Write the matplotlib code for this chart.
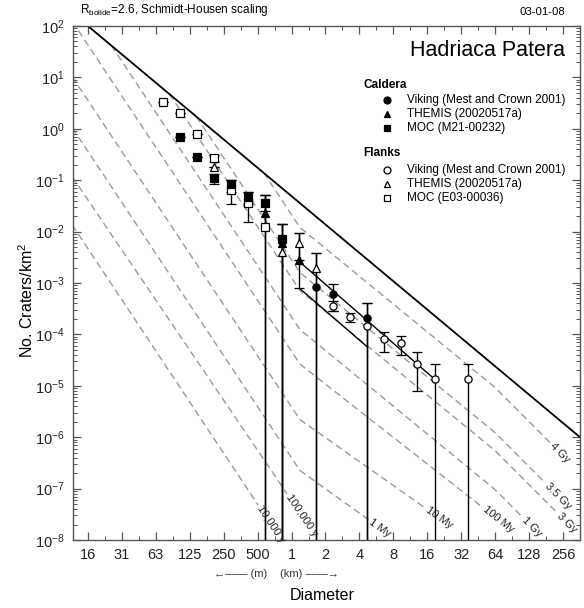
import numpy as np
import matplotlib
matplotlib.use("Agg")
import matplotlib.pyplot as plt
from matplotlib.ticker import FixedLocator, FixedFormatter, LogLocator, NullFormatter

plt.rcParams['font.family'] = ['Liberation Sans', 'DejaVu Sans']
plt.rcParams['mathtext.fontset'] = 'custom'
plt.rcParams['mathtext.rm'] = 'Liberation Sans'
plt.rcParams['mathtext.it'] = 'Liberation Sans:italic'
plt.rcParams['mathtext.bf'] = 'Liberation Sans:bold'
plt.rcParams['axes.unicode_minus'] = False

# --- crater counts (diameter in km, density per km^2) ---
BOTTOM = 1e-9  # error bar running off the bottom of the plot

moc_cal_D = [0.1024, 0.1448, 0.2048, 0.2896, 0.41, 0.58, 0.82]
moc_cal_N = [0.684, 0.279, 0.109, 0.0843, 0.0478, 0.0365, 0.0071]
moc_cal_hi = [0.684, 0.279, 0.135, 0.101, 0.0597, 0.0515, 0.0141]
moc_cal_lo = [0.684, 0.279, 0.085, 0.06, 0.035, 0.025, BOTTOM]

themis_cal_D = [0.58, 0.82, 1.16]
themis_cal_N = [0.0227, 0.0059, 0.0028]
themis_cal_hi = [0.0515, 0.0141, 0.00927]
themis_cal_lo = [BOTTOM, BOTTOM, 0.00079]

viking_cal_D = [1.64, 2.32, 4.64]
viking_cal_N = [8.2e-4, 6.1e-4, 2.06e-4]
viking_cal_hi = [0.00389, 9.6e-4, 4.0e-4]
viking_cal_lo = [BOTTOM, 2.85e-4, BOTTOM]

moc_fl_D = [0.0724, 0.1024, 0.1448, 0.2048, 0.2896, 0.41, 0.58]
moc_fl_N = [3.3, 2.03, 0.79, 0.27, 0.065, 0.036, 0.0124]
moc_fl_hi = [3.3, 2.03, 0.79, 0.31, 0.101, 0.0597, 0.0515]
moc_fl_lo = [3.3, 2.03, 0.79, 0.23, 0.0344, 0.0156, BOTTOM]

themis_fl_D = [0.2048, 0.82, 1.16, 1.64]
themis_fl_N = [0.178, 0.00406, 0.0059, 0.00193]
themis_fl_hi = [0.178, 0.0141, 0.00927, 0.00389]
themis_fl_lo = [0.178, BOTTOM, 0.0028, BOTTOM]

viking_fl_D = [2.32, 3.28, 4.64, 6.56, 9.28, 13.1, 18.6, 37.1]
viking_fl_N = [3.57e-4, 2.2e-4, 1.46e-4, 8.0e-5, 6.7e-5, 2.65e-5, 1.34e-5, 1.34e-5]
viking_fl_hi = [4.5e-4, 2.6e-4, 4.0e-4, 1.13e-4, 9.4e-5, 4.6e-5, 2.65e-5, 2.65e-5]
viking_fl_lo = [2.85e-4, 1.77e-4, BOTTOM, 4.6e-5, 4.0e-5, 8.0e-6, BOTTOM, BOTTOM]

# fitted age lines through the data
fit_hi_D = [1.175, 18.2]
fit_hi_N = [2.6e-3, 1.4e-5]
fit_lo_D = [1.175, 4.66]
fit_lo_N = [7.9e-4, 5.8e-5]

# saturation equilibrium
sat_D = [0.015625, 362.0]
sat_N = [100.0, 1.0e-6]

# Hartmann isochrons: vertices
iso_labels = ['10,000 y', '100,000 y', '1 My', '10 My', '100 My',
              '1 Gy', '3 Gy', '3.5 Gy', '4 Gy']
iso_D = [
    [0.01, 0.505],
    [0.01, 0.912],
    [0.01, 1.19, 4.79],
    [0.01, 1.19, 15.4],
    [0.01, 1.19, 49.2],
    [0.0252, 1.19, 64.0, 111.6],
    [0.0825, 1.19, 64.0, 228.0],
    [0.143, 1.19, 64.0, 178.0],
    [0.565, 1.19, 64.0, 198.0],
]
iso_N = [
    [10**-1.69, 10**-7.32],
    [10**-0.757, 10**-7.1],
    [10**0.2, 10**-6.65, 10**-7.6],
    [10**1.19, 10**-5.66, 10**-7.38],
    [10**2.27, 10**-4.58, 10**-7.36],
    [41.8, 10**-3.908, 10**-7.021, 10**-7.553],
    [4.76, 10**-3.15, 10**-6.263, 10**-7.475],
    [1.74, 10**-2.799, 10**-5.912, 10**-6.891],
    [0.141, 10**-1.922, 10**-5.035, 10**-6.113],
]

x_ticks = [2.0 ** k for k in range(-6, 9)]
x_ticklabels = ['16', '31', '63', '125', '250', '500', '1', '2', '4', '8',
                '16', '32', '64', '128', '256']

W, H = 584, 608
fig = plt.figure(figsize=(W / 100, H / 100), dpi=100)
ax = fig.add_axes([73 / W, 68 / H, 507 / W, 514 / H])
ax.set_xscale('log')
ax.set_yscale('log')
ax.set_xlim(2 ** -6.44, 2 ** 8.5)
ax.set_ylim(1e-8, 1e2)

gray = '#9a9a9a'
for lab, dd, nn in zip(iso_labels, iso_D, iso_N):
    ax.plot(dd, nn, color=gray, lw=1.0, dashes=(5, 3), zorder=1)

ax.plot(sat_D, sat_N, color='black', lw=1.3, zorder=2)
ax.plot(fit_hi_D, fit_hi_N, color='black', lw=1.0, zorder=2)
ax.plot(fit_lo_D, fit_lo_N, color='black', lw=1.0, zorder=2)


def draw(D, N, hi, lo, marker, filled):
    D = np.array(D)
    N = np.array(N)
    yerr = [N - np.array(lo), np.array(hi) - N]
    ax.errorbar(D, N, yerr=yerr, fmt=marker, ms=5.2,
                mfc='black' if filled else 'white', mec='black', mew=0.9,
                ecolor='black', elinewidth=1.0, capsize=3.5, capthick=1.0,
                zorder=3)


draw(moc_fl_D, moc_fl_N, moc_fl_hi, moc_fl_lo, 's', False)
draw(moc_cal_D, moc_cal_N, moc_cal_hi, moc_cal_lo, 's', True)
draw(themis_fl_D, themis_fl_N, themis_fl_hi, themis_fl_lo, '^', False)
draw(themis_cal_D, themis_cal_N, themis_cal_hi, themis_cal_lo, '^', True)
draw(viking_fl_D, viking_fl_N, viking_fl_hi, viking_fl_lo, 'o', False)
draw(viking_cal_D, viking_cal_N, viking_cal_hi, viking_cal_lo, 'o', True)

# isochron labels, rotated along the end of each line
for lab, dd, nn in zip(iso_labels, iso_D, iso_N):
    p0 = ax.transData.transform((dd[-2], nn[-2]))
    p1 = ax.transData.transform((dd[-1], nn[-1]))
    v = p1 - p0
    v = v / np.hypot(*v)
    ang = np.degrees(np.arctan2(v[1], v[0]))
    pos = ax.transData.inverted().transform(p1 + 2 * v)
    ax.text(pos[0], pos[1], lab, rotation=ang, rotation_mode='anchor',
            ha='left', va='center', fontsize=8, color='#222222', zorder=4)

# axes styling
ax.xaxis.set_major_locator(FixedLocator(x_ticks))
ax.xaxis.set_major_formatter(FixedFormatter(x_ticklabels))
ax.xaxis.set_minor_locator(FixedLocator([t * 2 ** 0.5 for t in x_ticks]))
ax.xaxis.set_minor_formatter(NullFormatter())
ax.yaxis.set_major_locator(LogLocator(base=10, numticks=20))
ax.yaxis.set_minor_locator(LogLocator(base=10, subs=np.arange(2, 10), numticks=20))
ax.yaxis.set_minor_formatter(NullFormatter())
ax.tick_params(which='both', direction='in', top=True, right=True, colors='#555555',
               labelcolor='#222222')
ax.tick_params(which='major', length=6, width=0.9, labelsize=10.5, pad=6)
ax.tick_params(which='minor', length=3, width=0.7)
for s in ax.spines.values():
    s.set_color('#555555')
    s.set_linewidth(1.0)


# titles / annotations in figure pixels
def ftext(x, y, s, **kw):
    fig.text(x / W, 1 - y / H, s, **kw)


ftext(27, 300, 'No. Craters/km$^2$', fontsize=11.5, rotation=90, va='center', ha='center')
ftext(322, 595, 'Diameter', fontsize=11.5, va='center', ha='center')

ftext(80, 10, 'R$_{\\mathrm{bolide}}$=2.6, Schmidt-Housen scaling', fontsize=8.5, va='center')
ftext(565, 12, '03-01-08', fontsize=8.2, va='center', ha='right')
ftext(565, 51, 'Hadriaca Patera', fontsize=15.5, va='center', ha='right')

ftext(267, 574, '\u2190\u2014\u2014 (m)', fontsize=8, va='center', ha='right', color='#333333')
ftext(280, 574, '(km) \u2014\u2014\u2192', fontsize=8, va='center', ha='left', color='#333333')

# legend drawn by hand
legend_rows = [
    ('Caldera', None, None),
    ('Viking (Mest and Crown 2001)', 'o', True),
    ('THEMIS (20020517a)', '^', True),
    ('MOC (M21-00232)', 's', True),
    ('Flanks', None, None),
    ('Viking (Mest and Crown 2001)', 'o', False),
    ('THEMIS (20020517a)', '^', False),
    ('MOC (E03-00036)', 's', False),
]
ys = [85, 100, 114, 128, 153, 170, 184, 198]
for (txt, mk, filled), y in zip(legend_rows, ys):
    if mk is None:
        ftext(363, y, txt, fontsize=8.5, fontweight='bold', va='center')
    else:
        fig.add_artist(plt.Line2D([387 / W], [1 - y / H], marker=mk, ms=5,
                                  mfc='black' if filled else 'white', mec='black',
                                  mew=0.9, ls='none', transform=fig.transFigure))
        ftext(407, y, txt, fontsize=8.5, va='center')

fig.savefig('out.png', dpi=100)
